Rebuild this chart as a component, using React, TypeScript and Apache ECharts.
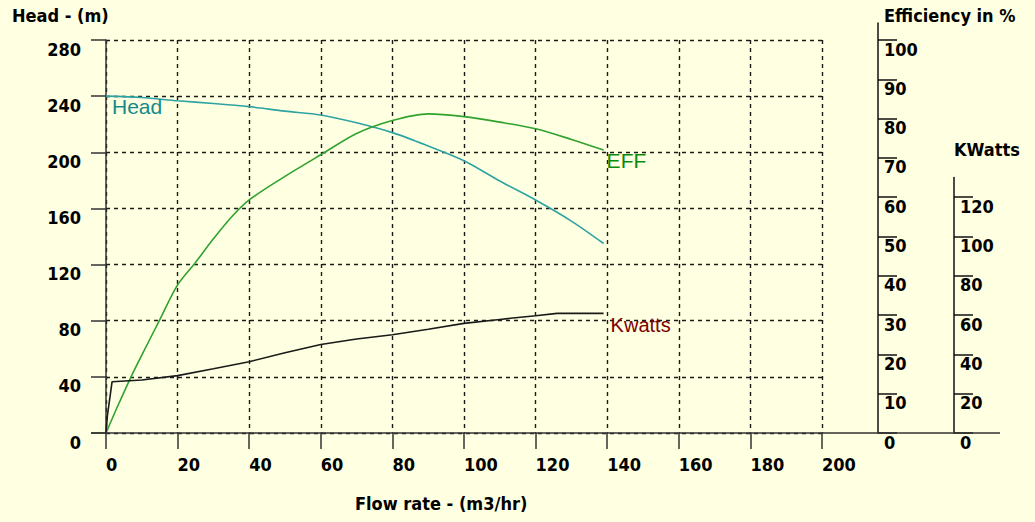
import React, { useEffect, useRef } from "react";
import * as echarts from "echarts";

// ---- data ----
const headFlow = [0, 10, 20, 30, 40, 50, 60, 70, 80, 90, 100, 110, 120, 130, 139];
const headValues = [240, 239, 236.7, 234.8, 232.5, 229.3, 226.6, 221, 214, 204.5, 194, 179.5, 166, 151, 135];

const effFlow = [0, 3, 7, 10, 15, 20, 25, 30, 35, 40, 50, 60, 70, 80, 90, 100, 110, 120, 130, 139];
const effValues = [0, 6.3, 14.3, 19.8, 28.8, 37.7, 43.4, 49.4, 54.9, 59.3, 65.3, 70.8, 76.2, 79.5, 81.2, 80.5, 79.1, 77.4, 74.7, 72];

const kwFlow = [0, 0.4, 1.7, 10, 20, 30, 40, 50, 60, 70, 80, 90, 100, 110, 120, 126, 139];
const kwValues = [0, 9, 26.1, 27, 29.2, 32.7, 36.3, 40.8, 45, 47.8, 50, 52.8, 55.8, 57.8, 59.7, 60.9, 60.9];

const effTickValues = [0, 10, 20, 30, 40, 50, 60, 70, 80, 90, 100];
const kwTickValues = [0, 20, 40, 60, 80, 100, 120];

const flowMax = 200;
const headMax = 280;
const effMax = 104.3;
const kwMax = 130;
const kwFull = 200;

// ---- layout ----
const PLOT_LEFT = 106;
const PLOT_W = 716;
const PLOT_TOP = 40;
const PLOT_H = 393;
const PLOT_BOTTOM = PLOT_TOP + PLOT_H;

const AXIS_FONT = "'DejaVu Sans Condensed', 'DejaVu Sans', sans-serif";
const SERIES_FONT = "'Liberation Sans', Arial, sans-serif";
const BG = "#FFFFE1";
const AXIS_COLOR = "#333";
const GRID_COLOR = "#1a1a1a";

const pairs = (xs: number[], ys: number[]) => xs.map((x, i) => [x, ys[i]]);

export default function App() {
  const ref = useRef<HTMLDivElement>(null);
  useEffect(() => {
    if (!ref.current) return;
    const chart = echarts.init(ref.current, null, { renderer: "svg" });

    const labelBase = {
      fontFamily: AXIS_FONT,
      fontWeight: "bold" as const,
      fontSize: 18,
      lineHeight: 18,
      color: "#000",
    };

    const effH = (PLOT_H * effMax) / 100;
    const kwH = (PLOT_H * kwMax) / kwFull;

    const gridLine = { show: true, lineStyle: { type: [4, 4], color: GRID_COLOR, width: 1.4 } };

    const option: any = {
      animation: false,
      backgroundColor: BG,
      grid: [
        { left: PLOT_LEFT, top: PLOT_TOP, width: PLOT_W, height: PLOT_H },
        { left: PLOT_LEFT, top: PLOT_BOTTOM - effH, width: PLOT_W, height: effH },
        { left: PLOT_LEFT, top: PLOT_BOTTOM - kwH, width: PLOT_W, height: kwH },
      ],
      xAxis: [
        {
          gridIndex: 0,
          type: "value",
          min: 0,
          max: flowMax,
          interval: 20,
          axisLine: { show: false, onZero: false },
          axisTick: { show: true, length: 16, lineStyle: { color: AXIS_COLOR, width: 1.5 } },
          axisLabel: { ...labelBase, align: "left", verticalAlign: "top", margin: 22 },
          splitLine: gridLine,
        },
        { gridIndex: 1, type: "value", min: 0, max: flowMax, show: false },
        { gridIndex: 2, type: "value", min: 0, max: flowMax, show: false },
      ],
      yAxis: [
        {
          gridIndex: 0,
          type: "value",
          position: "left",
          min: 0,
          max: headMax,
          interval: 40,
          axisLine: { show: true, onZero: false, lineStyle: { color: AXIS_COLOR, width: 1.5 } },
          axisTick: { show: true, length: 15, lineStyle: { color: AXIS_COLOR, width: 1.5 } },
          axisLabel: { ...labelBase, align: "right", verticalAlign: "top", margin: 25 },
          splitLine: gridLine,
        },
        {
          gridIndex: 1,
          type: "value",
          position: "right",
          offset: 56,
          min: 0,
          max: effMax,
          axisLine: { show: true, onZero: false, lineStyle: { color: "#111", width: 1.5 } },
          axisTick: { show: true, length: 19, customValues: effTickValues, lineStyle: { color: "#111", width: 1.5 } },
          axisLabel: { ...labelBase, align: "left", verticalAlign: "top", margin: 6, customValues: effTickValues },
          splitLine: { show: false },
        },
        {
          gridIndex: 2,
          type: "value",
          position: "right",
          offset: 132,
          min: 0,
          max: kwMax,
          axisLine: { show: true, onZero: false, lineStyle: { color: "#111", width: 1.5 } },
          axisTick: { show: true, length: 19, customValues: kwTickValues, lineStyle: { color: "#111", width: 1.5 } },
          axisLabel: { ...labelBase, align: "left", verticalAlign: "top", margin: 6, customValues: kwTickValues },
          splitLine: { show: false },
        },
      ],
      series: [
        {
          name: "Head",
          type: "line",
          xAxisIndex: 0,
          yAxisIndex: 0,
          data: pairs(headFlow, headValues),
          showSymbol: false,
          symbol: "none",
          smooth: 0.3,
          lineStyle: { color: "#2EA3A3", width: 1.6 },
          markPoint: {
            symbol: "circle",
            symbolSize: 0,
            silent: true,
            data: [{ coord: [headFlow[0], headValues[0]] }],
            label: {
              show: true,
              formatter: "Head",
              position: "right",
              distance: 6,
              offset: [0, 10],
              color: "#168A8A",
              fontFamily: SERIES_FONT,
              fontSize: 21,
            },
          },
        },
        {
          name: "EFF",
          type: "line",
          xAxisIndex: 1,
          yAxisIndex: 1,
          data: pairs(effFlow, effValues),
          showSymbol: false,
          symbol: "none",
          smooth: 0.3,
          lineStyle: { color: "#2FA22F", width: 1.6 },
          endLabel: {
            show: true,
            formatter: "EFF",
            distance: 3,
            offset: [0, 10],
            color: "#0A8A0A",
            fontFamily: SERIES_FONT,
            fontSize: 21,
          },
        },
        {
          name: "Kwatts",
          type: "line",
          xAxisIndex: 2,
          yAxisIndex: 2,
          data: pairs(kwFlow, kwValues),
          showSymbol: false,
          symbol: "none",
          lineStyle: { color: "#1a1a1a", width: 1.6 },
          endLabel: {
            show: true,
            formatter: "Kwatts",
            distance: 7,
            offset: [0, 12],
            color: "#800000",
            fontFamily: SERIES_FONT,
            fontSize: 20,
          },
        },
      ],
      graphic: [
        {
          type: "line",
          shape: { x1: 91, y1: PLOT_BOTTOM, x2: 1000, y2: PLOT_BOTTOM },
          style: { stroke: AXIS_COLOR, lineWidth: 1.5 },
          z: 10,
        },
        {
          type: "text",
          left: 12,
          top: 6,
          style: { text: "Head - (m)", font: `bold 18px ${AXIS_FONT}`, fill: "#000" },
        },
        {
          type: "text",
          left: 884,
          top: 6,
          style: { text: "Efficiency in %", font: `bold 18px ${AXIS_FONT}`, fill: "#000" },
        },
        {
          type: "text",
          left: 954,
          top: 140,
          style: { text: "KWatts", font: `bold 18px ${AXIS_FONT}`, fill: "#000" },
        },
        {
          type: "text",
          left: 355,
          top: 494,
          style: { text: "Flow rate - (m3/hr)", font: `bold 18px ${AXIS_FONT}`, fill: "#000" },
        },
      ],
    };

    chart.setOption(option);
    return () => chart.dispose();
  }, []);

  return (
    <div
      ref={ref}
      style={{ position: "fixed", left: 0, top: 0, width: 1035, height: 522 }}
    />
  );
}
